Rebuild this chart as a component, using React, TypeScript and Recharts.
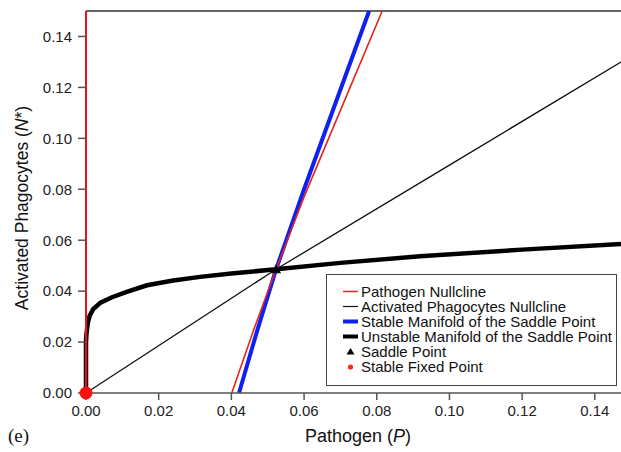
import React from "react";
import {
  ComposedChart,
  Line,
  Scatter,
  XAxis,
  YAxis,
  ReferenceLine,
} from "recharts";

// ---- data ----
const xTicks = [0, 0.02, 0.04, 0.06, 0.08, 0.1, 0.12, 0.14];
const yTicks = [0, 0.02, 0.04, 0.06, 0.08, 0.1, 0.12, 0.14];

// Pathogen nullcline (two branches)
const pathogenNullclineAxis = [
  { x: 0, y: 0 },
  { x: 0, y: 0.15 },
];
const pathogenNullcline = [
  { x: 0.0401, y: 0 },
  { x: 0.0462, y: 0.025 },
  { x: 0.0523, y: 0.0486 },
  { x: 0.06, y: 0.077 },
  { x: 0.07, y: 0.111 },
  { x: 0.0815, y: 0.15 },
];
// Activated phagocytes nullcline
const phagocyteNullcline = [
  { x: 0, y: 0 },
  { x: 0.0523, y: 0.0486 },
  { x: 0.1, y: 0.0895 },
  { x: 0.1472, y: 0.13 },
];
// Stable manifold of the saddle point
const stableManifold = [
  { x: 0.0421, y: 0 },
  { x: 0.047, y: 0.024 },
  { x: 0.0523, y: 0.0486 },
  { x: 0.06, y: 0.08 },
  { x: 0.0779, y: 0.15 },
];
// Unstable manifold of the saddle point
const unstableManifold = [
  { x: 0, y: 0 },
  { x: 0, y: 0.02 },
  { x: 0.0001, y: 0.0225 },
  { x: 0.0002, y: 0.024 },
  { x: 0.0005, y: 0.0275 },
  { x: 0.001, y: 0.0303 },
  { x: 0.002, y: 0.033 },
  { x: 0.004, y: 0.0355 },
  { x: 0.007, y: 0.0375 },
  { x: 0.011, y: 0.0396 },
  { x: 0.0168, y: 0.0423 },
  { x: 0.024, y: 0.0442 },
  { x: 0.0314, y: 0.0456 },
  { x: 0.04, y: 0.0469 },
  { x: 0.0523, y: 0.0486 },
  { x: 0.07, y: 0.0511 },
  { x: 0.0919, y: 0.0537 },
  { x: 0.12, y: 0.0563 },
  { x: 0.1472, y: 0.0585 },
];
const saddlePoint = [{ x: 0.0523, y: 0.0486 }];
const stableFixedPoint = [{ x: 0, y: 0 }];

const legendItems = [
  { label: "Pathogen Nullcline", kind: "line", color: "#e8231a", w: 1.5 },
  { label: "Activated Phagocytes Nullcline", kind: "line", color: "#111", w: 1.2 },
  { label: "Stable Manifold of the Saddle Point", kind: "line", color: "#1020f0", w: 4 },
  { label: "Unstable Manifold of the Saddle Point", kind: "line", color: "#000", w: 4 },
  { label: "Saddle Point", kind: "triangle", color: "#000", w: 0 },
  { label: "Stable Fixed Point", kind: "dot", color: "#f03010", w: 0 },
];

const FONT = "Arial, 'Liberation Sans', sans-serif";

const LegendBox = () => (
  <div
    style={{
      position: "absolute",
      left: 326,
      top: 274,
      width: 291,
      height: 112,
      border: "1px solid #444",
      background: "#fff",
      boxSizing: "border-box",
      paddingTop: 9,
      fontFamily: FONT,
      fontSize: 15,
      color: "#111",
    }}
  >
    {legendItems.map((it) => (
      <div
        key={it.label}
        style={{ display: "flex", alignItems: "center", height: 15, lineHeight: "15px", whiteSpace: "nowrap" }}
      >
        <svg width={34} height={15} style={{ flex: "none" }}>
          {it.kind === "line" && (
            <line x1={16} x2={31} y1={7.5} y2={7.5} stroke={it.color} strokeWidth={it.w} />
          )}
          {it.kind === "triangle" && (
            <polygon points="23.5,4 27.5,10.5 19.5,10.5" fill={it.color} />
          )}
          {it.kind === "dot" && <circle cx={23.5} cy={8} r={2.6} fill={it.color} />}
        </svg>
        <span>{it.label}</span>
      </div>
    ))}
  </div>
);

const RedDot = (props: any) => <circle cx={props.cx} cy={props.cy} r={6.5} fill="#ff1010" />;
const Triangle = (props: any) => (
  <polygon
    points={`${props.cx},${props.cy - 5} ${props.cx + 5},${props.cy + 4} ${props.cx - 5},${props.cy + 4}`}
    fill="#000"
  />
);

export default function App() {
  return (
    <div
      style={{
        position: "relative",
        width: 621,
        height: 452,
        background: "#fff",
        overflow: "hidden",
      }}
    >
      <style>{`html,body{margin:0;padding:0;overflow:hidden;}`}</style>
      <ComposedChart
        width={621}
        height={452}
        margin={{ top: 11, right: 0, left: 0, bottom: 0 }}
        style={{ display: "block" }}
      >
        <XAxis
          type="number"
          dataKey="x"
          domain={[0, 0.1472]}
          ticks={xTicks}
          tickFormatter={(v: number) => v.toFixed(2)}
          height={59}
          tickSize={7}
          tickMargin={5}
          stroke="#555"
          strokeWidth={1.5}
          tick={{ fill: "#222", fontSize: 15, fontFamily: FONT }}
          allowDecimals
        />
        <YAxis
          type="number"
          dataKey="y"
          domain={[0, 0.15]}
          ticks={yTicks}
          tickFormatter={(v: number) => v.toFixed(2)}
          width={86}
          tickSize={8}
          tickMargin={6}
          stroke="#555"
          axisLine={{ stroke: "#e8101a", strokeWidth: 2 }}
          tickLine={{ stroke: "#555", strokeWidth: 1.5 }}
          tick={{ fill: "#222", fontSize: 15, fontFamily: FONT }}
        />
        <ReferenceLine y={0.15} stroke="#666" strokeWidth={2} />
        <Line
          data={phagocyteNullcline}
          dataKey="y"
          stroke="#111"
          strokeWidth={1.3}
          dot={false}
          type="linear"
          isAnimationActive={false}
        />
        <Line
          data={unstableManifold}
          dataKey="y"
          stroke="#000"
          strokeWidth={4.5}
          dot={false}
          type="linear"
          isAnimationActive={false}
        />
        <Line
          data={stableManifold}
          dataKey="y"
          stroke="#1020f0"
          strokeWidth={4}
          dot={false}
          type="linear"
          isAnimationActive={false}
        />
        <Line
          data={pathogenNullcline}
          dataKey="y"
          stroke="#e8231a"
          strokeWidth={1.6}
          dot={false}
          type="linear"
          isAnimationActive={false}
        />
        <Line
          data={pathogenNullclineAxis}
          dataKey="y"
          stroke="#e8101a"
          strokeWidth={2}
          dot={false}
          type="linear"
          isAnimationActive={false}
        />
        <Scatter data={saddlePoint} dataKey="y" shape={Triangle} isAnimationActive={false} />
        <Scatter data={stableFixedPoint} dataKey="y" shape={RedDot} isAnimationActive={false} />
      </ComposedChart>
      <LegendBox />
      <div
        style={{
          position: "absolute",
          left: 358,
          top: 426,
          transform: "translateX(-50%)",
          fontFamily: FONT,
          fontSize: 18,
          color: "#111",
          whiteSpace: "nowrap",
        }}
      >
        Pathogen (<i>P</i>)
      </div>
      <div
        style={{
          position: "absolute",
          left: 22,
          top: 208,
          transform: "translate(-50%, -50%) rotate(-90deg)",
          fontFamily: FONT,
          fontSize: 17.5,
          color: "#111",
          whiteSpace: "nowrap",
        }}
      >
        Activated Phagocytes (<i>N</i>*)
      </div>
      <div
        style={{
          position: "absolute",
          left: 8,
          top: 425,
          fontFamily: "'Liberation Serif', 'DejaVu Serif', serif",
          fontSize: 19,
          color: "#111",
        }}
      >
        (e)
      </div>
    </div>
  );
}
